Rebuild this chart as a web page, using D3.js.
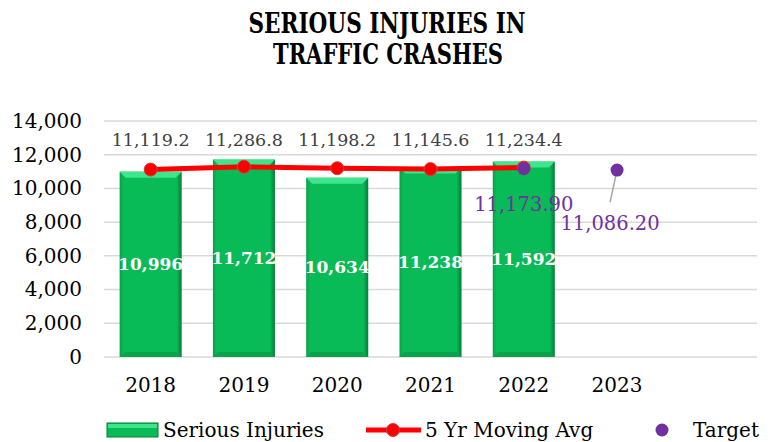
<!DOCTYPE html>
<html>
<head>
<meta charset="utf-8">
<script src="https://cdn.jsdelivr.net/npm/d3@7"></script>
<style>
  body { margin: 0; background: #fff; }
  text { font-family: "DejaVu Serif", "Liberation Serif", serif; }
</style>
</head>
<body>
<div id="chart"></div>
<script>
// data
const years = ['2018', '2019', '2020', '2021', '2022', '2023', ''];
const injuries = [10996, 11712, 10634, 11238, 11592];
const movingAvg = [11119.2, 11286.8, 11198.2, 11145.6, 11234.4];
const targetYears = ['2022', '2023'];
const targets = [11173.90, 11086.20];
const yTicks = [0, 2000, 4000, 6000, 8000, 10000, 12000, 14000];

const w = 777, h = 442;
const m = { left: 104, right: 20, top: 121, bottom: 85 };
const serif = '"DejaVu Serif", serif';

const svg = d3.select('#chart').append('svg')
  .attr('width', w).attr('height', h);

const defs = svg.append('defs');
const grad = defs.append('linearGradient').attr('id', 'barGrad')
  .attr('x1', 0).attr('x2', 1).attr('y1', 0).attr('y2', 0);
grad.append('stop').attr('offset', '0%').attr('stop-color', '#0a9e48');
grad.append('stop').attr('offset', '6%').attr('stop-color', '#08bb56');
grad.append('stop').attr('offset', '92%').attr('stop-color', '#08bb56');
grad.append('stop').attr('offset', '100%').attr('stop-color', '#067a38');

const x = d3.scaleBand().domain(years)
  .range([m.left, w - m.right]).paddingInner(0.335).paddingOuter(0.1675);
const y = d3.scaleLinear().domain([0, 14000]).range([h - m.bottom, m.top]);

// title
const title = svg.append('g').attr('font-weight', 'bold').attr('font-size', 27)
  .attr('text-anchor', 'middle');
title.append('text').attr('x', 387).attr('y', 33)
  .attr('textLength', 277).attr('lengthAdjust', 'spacingAndGlyphs')
  .text('SERIOUS INJURIES IN');
title.append('text').attr('x', 388).attr('y', 64)
  .attr('textLength', 230).attr('lengthAdjust', 'spacingAndGlyphs')
  .text('TRAFFIC CRASHES');

// grid
svg.append('g').selectAll('line').data(yTicks).join('line')
  .attr('x1', m.left).attr('x2', w - m.right)
  .attr('y1', d => y(d)).attr('y2', d => y(d))
  .attr('stroke', '#d9d9d9').attr('stroke-width', 1.5);

// y axis
const yAxis = d3.axisLeft(y).tickValues(yTicks).tickSize(0).tickPadding(0)
  .tickFormat(d3.format(','));
svg.append('g').attr('transform', `translate(${m.left - 22},0)`)
  .call(yAxis)
  .call(g => g.select('.domain').remove())
  .selectAll('text').attr('font-size', 20).attr('fill', '#000')
  .attr('font-family', serif);

// x axis
const xAxis = d3.axisBottom(x).tickSize(0).tickPadding(0);
svg.append('g').attr('transform', `translate(0,${h - m.bottom + 21})`)
  .call(xAxis)
  .call(g => g.select('.domain').remove())
  .selectAll('text').attr('font-size', 20).attr('fill', '#000')
  .attr('font-family', serif).attr('dy', '0.71em');

// bars
const bars = svg.append('g');
bars.selectAll('rect').data(injuries).join('rect')
  .attr('x', (d, i) => x(years[i]))
  .attr('y', d => y(d))
  .attr('width', x.bandwidth())
  .attr('height', d => y(0) - y(d))
  .attr('fill', 'url(#barGrad)');
// top bevel
bars.selectAll('path.bevel').data(injuries).join('path')
  .attr('class', 'bevel')
  .attr('d', (d, i) => {
    const x0 = x(years[i]), x1 = x0 + x.bandwidth(), t = y(d), b = 6;
    return `M${x0},${t}L${x1},${t}L${x1 - b},${t + b}L${x0 + b},${t + b}Z`;
  })
  .attr('fill', '#3fe58a');
bars.selectAll('path.bot').data(injuries).join('path')
  .attr('class', 'bot')
  .attr('d', (d, i) => {
    const x0 = x(years[i]), x1 = x0 + x.bandwidth(), b0 = y(0), b = 5;
    return `M${x0},${b0}L${x1},${b0}L${x1 - b},${b0 - b}L${x0 + b},${b0 - b}Z`;
  })
  .attr('fill', '#0aa24c');

// bar labels
svg.append('g').selectAll('text').data(injuries).join('text')
  .attr('x', (d, i) => x(years[i]) + x.bandwidth() / 2)
  .attr('y', d => y(d / 2))
  .attr('dy', '0.35em')
  .attr('text-anchor', 'middle')
  .attr('font-size', 17).attr('font-weight', 'bold').attr('fill', '#fff')
  .text(d => d3.format(',')(d));

// moving average
const cx = (yr) => x(yr) + x.bandwidth() / 2;
const line = d3.line().x((d, i) => cx(years[i])).y(d => y(d));
svg.append('path').datum(movingAvg)
  .attr('d', line).attr('fill', 'none')
  .attr('stroke', '#ff0000').attr('stroke-width', 5);
svg.append('g').selectAll('circle').data(movingAvg).join('circle')
  .attr('cx', (d, i) => cx(years[i])).attr('cy', d => y(d))
  .attr('r', 6.5).attr('fill', '#ff0000').attr('stroke', '#d04040').attr('stroke-width', 1);
svg.append('g').selectAll('text').data(movingAvg).join('text')
  .attr('x', (d, i) => cx(years[i])).attr('y', 146)
  .attr('text-anchor', 'middle').attr('font-size', 17.5).attr('fill', '#404040')
  .text(d => d3.format(',.1f')(d));

// target
svg.append('line')
  .attr('x1', cx(targetYears[1])).attr('y1', y(targets[1]))
  .attr('x2', cx(targetYears[1]) - 7).attr('y2', y(targets[1]) + 32)
  .attr('stroke', '#a6a6a6').attr('stroke-width', 1.5);
svg.append('g').selectAll('circle').data(targets).join('circle')
  .attr('cx', (d, i) => cx(targetYears[i])).attr('cy', d => y(d))
  .attr('r', 6.5).attr('fill', '#7030a0');
const tOff = [[0, 42], [-7, 60]];
svg.append('g').selectAll('text').data(targets).join('text')
  .attr('x', (d, i) => cx(targetYears[i]) + tOff[i][0])
  .attr('y', (d, i) => y(d) + tOff[i][1])
  .attr('text-anchor', 'middle').attr('font-size', 19.5).attr('fill', '#7030a0')
  .text(d => d3.format(',.2f')(d));

// legend
const lg = svg.append('g').attr('font-size', 20).attr('fill', '#000');
lg.append('rect').attr('x', 107).attr('y', 423).attr('width', 51).attr('height', 14)
  .attr('fill', '#08bb56').attr('stroke', '#067a38').attr('stroke-width', 1);
lg.append('rect').attr('x', 108).attr('y', 424).attr('width', 49).attr('height', 4)
  .attr('fill', '#3fe58a');
lg.append('text').attr('x', 163).attr('y', 437).text('Serious Injuries');
lg.append('line').attr('x1', 366).attr('x2', 421).attr('y1', 430).attr('y2', 430)
  .attr('stroke', '#ff0000').attr('stroke-width', 5);
lg.append('circle').attr('cx', 393).attr('cy', 430).attr('r', 6.5)
  .attr('fill', '#ff0000').attr('stroke', '#d04040');
lg.append('text').attr('x', 425).attr('y', 437).text('5 Yr Moving Avg');
lg.append('circle').attr('cx', 662).attr('cy', 430).attr('r', 6.5).attr('fill', '#7030a0');
lg.append('text').attr('x', 693).attr('y', 437).text('Target');
</script>
</body>
</html>
